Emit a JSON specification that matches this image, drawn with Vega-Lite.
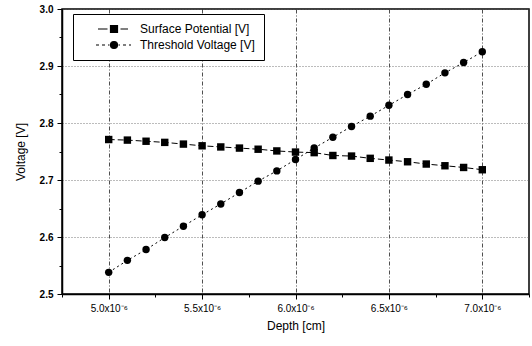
{
  "$schema": "https://vega.github.io/schema/vega-lite/v6.json",
  "width": 467,
  "height": 285,
  "autosize": {"type": "none"},
  "padding": {"left": 62, "top": 9, "right": 3, "bottom": 52},
  "background": "white",
  "config": {
    "font": "Liberation Sans",
    "view": {"stroke": "black", "strokeWidth": 1.5},
    "axis": {
      "domainColor": "black",
      "domainWidth": 1.5,
      "tickColor": "black",
      "labelColor": "black",
      "titleColor": "black",
      "labelFont": "Liberation Sans",
      "titleFont": "Liberation Sans",
      "titleFontWeight": "normal",
      "titleFontSize": 12
    },
    "legend": {
      "orient": "none",
      "legendX": 11,
      "legendY": 5,
      "fillColor": "white",
      "strokeColor": "black",
      "padding": 9,
      "rowPadding": 4,
      "symbolSize": 100,
      "symbolStrokeWidth": 1.2,
      "labelFontSize": 12,
      "labelColor": "black",
      "labelFont": "Liberation Sans",
      "labelOffset": 46,
      "labelLimit": 300
    }
  },
  "data": {
    "values": [
      {"depth": 5.0e-6, "series": "Surface Potential [V]", "voltage": 2.771},
      {"depth": 5.1e-6, "series": "Surface Potential [V]", "voltage": 2.770},
      {"depth": 5.2e-6, "series": "Surface Potential [V]", "voltage": 2.768},
      {"depth": 5.3e-6, "series": "Surface Potential [V]", "voltage": 2.766},
      {"depth": 5.4e-6, "series": "Surface Potential [V]", "voltage": 2.763},
      {"depth": 5.5e-6, "series": "Surface Potential [V]", "voltage": 2.760},
      {"depth": 5.6e-6, "series": "Surface Potential [V]", "voltage": 2.758},
      {"depth": 5.7e-6, "series": "Surface Potential [V]", "voltage": 2.756},
      {"depth": 5.8e-6, "series": "Surface Potential [V]", "voltage": 2.754},
      {"depth": 5.9e-6, "series": "Surface Potential [V]", "voltage": 2.751},
      {"depth": 6.0e-6, "series": "Surface Potential [V]", "voltage": 2.749},
      {"depth": 6.1e-6, "series": "Surface Potential [V]", "voltage": 2.748},
      {"depth": 6.2e-6, "series": "Surface Potential [V]", "voltage": 2.743},
      {"depth": 6.3e-6, "series": "Surface Potential [V]", "voltage": 2.742},
      {"depth": 6.4e-6, "series": "Surface Potential [V]", "voltage": 2.738},
      {"depth": 6.5e-6, "series": "Surface Potential [V]", "voltage": 2.735},
      {"depth": 6.6e-6, "series": "Surface Potential [V]", "voltage": 2.732},
      {"depth": 6.7e-6, "series": "Surface Potential [V]", "voltage": 2.728},
      {"depth": 6.8e-6, "series": "Surface Potential [V]", "voltage": 2.725},
      {"depth": 6.9e-6, "series": "Surface Potential [V]", "voltage": 2.722},
      {"depth": 7.0e-6, "series": "Surface Potential [V]", "voltage": 2.718},
      {"depth": 5.0e-6, "series": "Threshold Voltage [V]", "voltage": 2.538},
      {"depth": 5.1e-6, "series": "Threshold Voltage [V]", "voltage": 2.559},
      {"depth": 5.2e-6, "series": "Threshold Voltage [V]", "voltage": 2.578},
      {"depth": 5.3e-6, "series": "Threshold Voltage [V]", "voltage": 2.599},
      {"depth": 5.4e-6, "series": "Threshold Voltage [V]", "voltage": 2.619},
      {"depth": 5.5e-6, "series": "Threshold Voltage [V]", "voltage": 2.639},
      {"depth": 5.6e-6, "series": "Threshold Voltage [V]", "voltage": 2.658},
      {"depth": 5.7e-6, "series": "Threshold Voltage [V]", "voltage": 2.678},
      {"depth": 5.8e-6, "series": "Threshold Voltage [V]", "voltage": 2.698},
      {"depth": 5.9e-6, "series": "Threshold Voltage [V]", "voltage": 2.716},
      {"depth": 6.0e-6, "series": "Threshold Voltage [V]", "voltage": 2.736},
      {"depth": 6.1e-6, "series": "Threshold Voltage [V]", "voltage": 2.756},
      {"depth": 6.2e-6, "series": "Threshold Voltage [V]", "voltage": 2.775},
      {"depth": 6.3e-6, "series": "Threshold Voltage [V]", "voltage": 2.794},
      {"depth": 6.4e-6, "series": "Threshold Voltage [V]", "voltage": 2.812},
      {"depth": 6.5e-6, "series": "Threshold Voltage [V]", "voltage": 2.831},
      {"depth": 6.6e-6, "series": "Threshold Voltage [V]", "voltage": 2.850},
      {"depth": 6.7e-6, "series": "Threshold Voltage [V]", "voltage": 2.868},
      {"depth": 6.8e-6, "series": "Threshold Voltage [V]", "voltage": 2.888},
      {"depth": 6.9e-6, "series": "Threshold Voltage [V]", "voltage": 2.906},
      {"depth": 7.0e-6, "series": "Threshold Voltage [V]", "voltage": 2.925}
    ]
  },
  "encoding": {
    "x": {
      "field": "depth",
      "type": "quantitative",
      "title": "Depth [cm]",
      "scale": {"domain": [4.75e-6, 7.25e-6], "nice": false, "zero": false},
      "axis": {
        "values": [4.75e-6, 5.0e-6, 5.25e-6, 5.5e-6, 5.75e-6, 6.0e-6, 6.25e-6, 6.5e-6, 6.75e-6, 7.0e-6, 7.25e-6],
        "labelExpr": "abs(datum.value * 2e6 - round(datum.value * 2e6)) < 0.001 ? format(datum.value * 1e6, '.1f') + 'x10⁻⁶' : ''",
        "labelFontSize": 10,
        "labelPadding": 4,
        "labelFlush": false,
        "titlePadding": 7,
        "tickSize": {"condition": {"test": "abs(datum.value * 2e6 - round(datum.value * 2e6)) < 0.001", "value": 5}, "value": 3},
        "grid": true,
        "gridColor": "#222222",
        "gridWidth": 0.8,
        "gridDash": [4, 2, 1, 2],
        "gridOpacity": {"condition": {"test": "abs(datum.value * 2e6 - round(datum.value * 2e6)) < 0.001", "value": 1}, "value": 0}
      }
    },
    "y": {
      "field": "voltage",
      "type": "quantitative",
      "title": "Voltage [V]",
      "scale": {"domain": [2.5, 3.0], "nice": false, "zero": false},
      "axis": {
        "values": [2.5, 2.55, 2.6, 2.65, 2.7, 2.75, 2.8, 2.85, 2.9, 2.95, 3.0],
        "labelExpr": "abs(datum.value * 10 - round(datum.value * 10)) < 0.001 ? format(datum.value, '.1f') : ''",
        "labelFontSize": 10,
        "labelFontWeight": "bold",
        "labelPadding": 4,
        "labelFlush": false,
        "titlePadding": 12,
        "tickSize": {"condition": {"test": "abs(datum.value * 10 - round(datum.value * 10)) < 0.001", "value": 5}, "value": 3},
        "grid": true,
        "gridColor": "#555555",
        "gridWidth": 0.8,
        "gridDash": [1, 2],
        "gridOpacity": {"condition": {"test": "abs(datum.value * 10 - round(datum.value * 10)) < 0.001", "value": 1}, "value": 0}
      }
    }
  },
  "resolve": {"scale": {"shape": "independent"}},
  "layer": [
    {
      "transform": [{"filter": "datum.series === 'Surface Potential [V]'"}],
      "mark": {"type": "line", "color": "black", "strokeWidth": 1, "strokeDash": [6, 3]},
      "encoding": {}
    },
    {
      "transform": [{"filter": "datum.series === 'Threshold Voltage [V]'"}],
      "mark": {"type": "line", "color": "black", "strokeWidth": 1, "strokeDash": [2, 3]},
      "encoding": {}
    },
    {
      "mark": {"type": "point", "filled": true, "size": 55, "opacity": 1, "color": "black"},
      "encoding": {
        "shape": {
          "field": "series",
          "type": "nominal",
          "scale": {"domain": ["Surface Potential [V]", "Threshold Voltage [V]"], "range": ["square", "circle"]},
          "legend": null
        }
      }
    },
    {
      "transform": [{"filter": "false"}],
      "mark": {"type": "point", "filled": true, "size": 100, "opacity": 1, "color": "black", "stroke": "black", "strokeWidth": 1.2},
      "encoding": {
        "shape": {
          "field": "series",
          "type": "nominal",
          "title": null,
          "scale": {
            "domain": ["Surface Potential [V]", "Threshold Voltage [V]"],
            "range": [
              "M2,0H3.9M4.5,-0.7H5.9V0.7H4.5ZM6.5,0H8",
              "M1.6,0H2.2M2.8,0H3.4M4,0H4.3M4.5,0A0.7,0.7 0 1,0 5.9,0A0.7,0.7 0 1,0 4.5,0ZM6.1,0H6.4M7,0H7.6M8.2,0H8.6"
            ]
          }
        }
      }
    }
  ]
}
